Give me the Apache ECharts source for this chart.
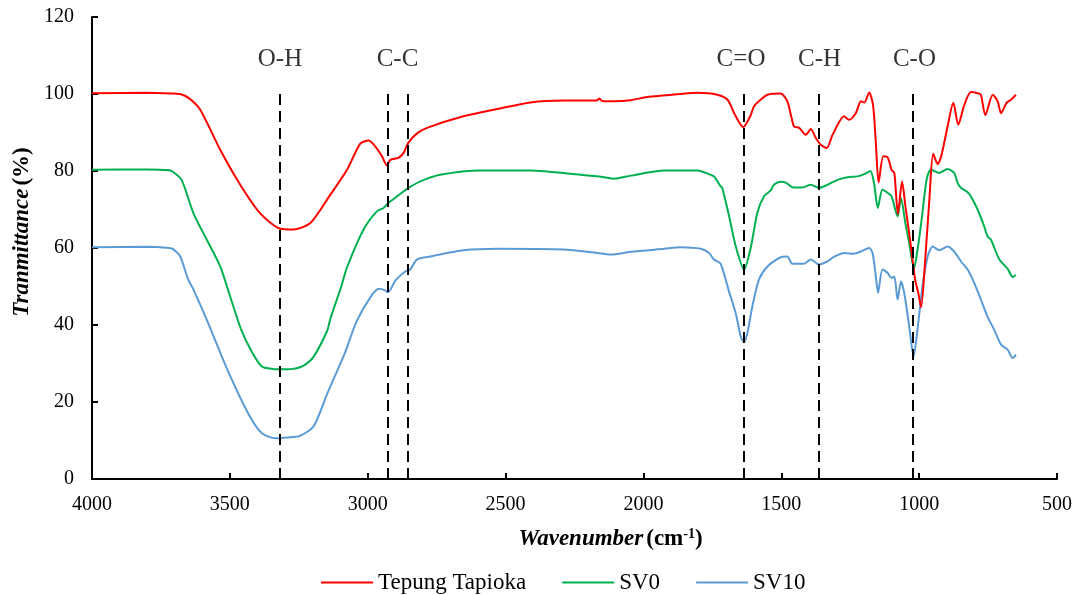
<!DOCTYPE html>
<html>
<head>
<meta charset="utf-8">
<script src="https://cdn.jsdelivr.net/npm/echarts@6/dist/echarts.min.js"></script>
<style>
  html, body { margin: 0; padding: 0; background: #ffffff; }
  #chart { width: 1075px; height: 595px; }
</style>
</head>
<body>
<div id="chart"></div>
<script>
// Tepung Tapioka
const tapiokaX = [4000, 3800, 3700, 3680, 3650, 3608, 3535, 3463, 3390, 3317, 3270, 3208, 3136, 3075, 3027, 2997, 2973, 2948, 2930, 2918, 2889, 2870, 2853, 2822, 2785, 2653, 2530, 2410, 2290, 2170, 2160, 2150, 2108, 2046, 1986, 1865, 1804, 1732, 1695, 1668, 1638, 1611, 1599, 1575, 1550, 1502, 1478, 1454, 1435, 1411, 1393, 1375, 1357, 1335, 1314, 1272, 1254, 1230, 1211, 1199, 1181, 1167, 1157, 1147, 1130, 1114, 1100, 1090, 1077, 1062, 1049, 1033, 1015, 1003, 993, 978, 963, 949, 933, 920, 897, 876, 858, 837, 812, 788, 776, 760, 733, 715, 703, 683, 667, 649];
const tapiokaY = [100.2, 100.3, 100.1, 100, 99, 96, 85.5, 76.5, 69, 65, 64.8, 66.5, 73.8, 80.3, 87.1, 87.9, 86.4, 83.8, 81.4, 82.9, 83.4, 84.7, 87.3, 89.7, 91.2, 94.2, 96.1, 97.8, 98.3, 98.3, 98.8, 98.2, 98.1, 98.4, 99.2, 100, 100.3, 99.8, 98.5, 94.6, 91.4, 94.5, 96.8, 98.5, 99.8, 100.1, 98.1, 91.6, 91.2, 89.4, 90.9, 88.6, 86.8, 86, 89.4, 94.2, 93.3, 95, 98.1, 97.8, 100.4, 97, 87.3, 77, 83.8, 83.5, 80.3, 79.5, 68.8, 77.3, 70.4, 62.2, 52, 48.3, 44.6, 57, 72.5, 84.5, 81.8, 83.8, 91.5, 97.7, 92, 97, 100.5, 100.2, 99.8, 94.5, 99.8, 98.1, 95, 97.7, 98.5, 99.8];

// SV0
const sv0X = [4000, 3800, 3720, 3706, 3675, 3632, 3584, 3535, 3499, 3459, 3420, 3384, 3346, 3300, 3271, 3234, 3196, 3147, 3136, 3096, 3075, 3015, 2967, 2943, 2925, 2894, 2852, 2809, 2737, 2591, 2410, 2228, 2143, 2107, 2046, 1925, 1804, 1756, 1744, 1720, 1714, 1690, 1665, 1635, 1611, 1587, 1563, 1538, 1527, 1502, 1484, 1460, 1424, 1393, 1363, 1333, 1296, 1260, 1224, 1199, 1177, 1164, 1150, 1133, 1114, 1100, 1078, 1066, 1050, 1036, 1019, 1004, 990, 973, 958, 927, 897, 873, 861, 848, 824, 812, 788, 764, 752, 740, 709, 679, 661, 649];
const sv0Y = [80.3, 80.4, 80.2, 79.8, 77.7, 69, 62.2, 55.2, 47.4, 38.8, 33, 29.2, 28.6, 28.5, 28.6, 29.4, 31.8, 38.5, 41.5, 50, 55, 64.8, 69.5, 70.4, 71.7, 73.4, 75.6, 77.3, 79, 80.1, 80.1, 79, 78.4, 78, 78.8, 80.1, 80.1, 79, 78.6, 76, 75.6, 68.5, 60.4, 54.4, 60, 69.1, 73.4, 75, 76.4, 77.2, 77, 75.8, 75.7, 76.4, 75.6, 76.4, 77.7, 78.4, 78.6, 79.2, 80, 77, 70.4, 75.2, 74.3, 73.4, 68.2, 73, 66.5, 61.3, 54.6, 60.4, 68, 77.7, 80.3, 79.5, 80.5, 79.5, 77, 75.6, 74.5, 73.4, 70, 65.6, 63, 62.2, 57, 54.6, 52.5, 53];

// SV10
const sv10X = [4000, 3800, 3720, 3706, 3680, 3652, 3632, 3584, 3509, 3434, 3384, 3334, 3290, 3246, 3196, 3146, 3083, 3040, 2984, 2959, 2937, 2926, 2900, 2864, 2846, 2822, 2773, 2652, 2530, 2289, 2167, 2119, 2046, 1925, 1865, 1792, 1762, 1744, 1720, 1690, 1665, 1647, 1635, 1623, 1605, 1581, 1550, 1502, 1478, 1460, 1418, 1393, 1363, 1333, 1309, 1272, 1236, 1211, 1181, 1169, 1157, 1149, 1133, 1114, 1100, 1090, 1078, 1066, 1054, 1036, 1020, 1006, 988, 969, 951, 927, 897, 873, 848, 824, 800, 776, 752, 728, 703, 679, 661, 649];
const sv10Y = [60.2, 60.3, 60, 59.7, 57.8, 52, 49.2, 41.4, 28.4, 17.1, 11.9, 10.6, 10.8, 11.2, 13.7, 22.3, 32.7, 41, 47.9, 49.4, 49, 48.5, 51.5, 53.9, 54.4, 57, 57.8, 59.4, 59.8, 59.6, 58.7, 58.3, 59, 59.8, 60.2, 59.8, 58.7, 57, 55.9, 48.8, 43, 37, 35.5, 37.9, 44.8, 51.8, 55.2, 57.6, 57.8, 55.9, 55.9, 57, 55.7, 56.5, 57.7, 58.7, 58.5, 59.1, 60, 58.7, 52.6, 48.3, 54.4, 53.5, 52.2, 52.6, 46.6, 51.3, 48.3, 39.6, 31.8, 38.8, 50, 57.8, 60.4, 59.4, 60.4, 59.1, 56.5, 54.4, 50.9, 46.6, 42.2, 38.8, 34.9, 33.6, 31.4, 32.3];

// band markers (dashed lines) and their labels
const bandLines = [3318, 2929, 2855, 1636, 1363, 1023];
const bandNames = ["O-H", "C-C", "C=O", "C-H", "C-O"];
const bandNameX = [3318, 2892, 1646, 1361, 1017];

const xTicks = [4000, 3500, 3000, 2500, 2000, 1500, 1000, 500];
const yTicks = [0, 20, 40, 60, 80, 100, 120];

const font = "'Liberation Serif', 'Times New Roman', serif";
const lineTop = 100.4;
const labelY = 108.9;

const pairs = (xs, ys) => xs.map((x, i) => [x, ys[i]]);

const myChart = echarts.init(document.getElementById("chart"));
const option = {
  animation: false,
  backgroundColor: "#ffffff",
  textStyle: { fontFamily: font },
  grid: { left: 92, right: 18, top: 17, bottom: 116 },
  legend: {
    data: [
      { name: "Tepung Tapioka", icon: "rect" },
      { name: "SV0", icon: "rect" },
      { name: "SV10", icon: "rect" }
    ],
    top: 566,
    left: 316,
    itemWidth: 52,
    itemHeight: 2,
    itemGap: 36,
    textStyle: { fontFamily: font, fontSize: 23, color: "#000000" }
  },
  xAxis: {
    type: "value",
    inverse: true,
    min: xTicks[xTicks.length - 1],
    max: xTicks[0],
    interval: 500,
    splitLine: { show: false },
    axisLine: { onZero: true, lineStyle: { color: "#000000", width: 2 } },
    axisTick: { inside: true, length: 6, lineStyle: { color: "#000000", width: 2 } },
    axisLabel: { fontSize: 20, color: "#000000", margin: 16, fontFamily: font, formatter: v => String(v) },
    name: "{it|Wavenumber} {b|(cm}{sup|-1}{b|)}",
    nameLocation: "middle",
    nameGap: 48,
    nameTextStyle: {
      padding: [0, 0, 0, 72],
      rich: {
        it: { fontSize: 23, fontWeight: "bold", fontStyle: "italic", fontFamily: font, color: "#000" },
        b: { fontSize: 23, fontWeight: "bold", fontFamily: font, color: "#000" },
        sup: { fontSize: 14, fontWeight: "bold", fontFamily: font, color: "#000", verticalAlign: "top", padding: [0, 0, 10, 0] }
      }
    }
  },
  yAxis: {
    type: "value",
    min: yTicks[0],
    max: yTicks[yTicks.length - 1],
    interval: 20,
    splitLine: { show: false },
    axisLine: { show: true, lineStyle: { color: "#000000", width: 2 } },
    axisTick: { show: true, inside: true, length: 6, lineStyle: { color: "#000000", width: 2 } },
    axisLabel: { fontSize: 20, color: "#000000", margin: 18, fontFamily: font },
    name: "{it|Tranmittance} {b|(%)}",
    nameLocation: "middle",
    nameGap: 58,
    nameTextStyle: {
      padding: [0, 0, 0, 32],
      rich: {
        it: { fontSize: 23, fontWeight: "bold", fontStyle: "italic", fontFamily: font, color: "#000" },
        b: { fontSize: 23, fontWeight: "bold", fontFamily: font, color: "#000" }
      }
    }
  },
  series: [
    {
      name: "Tepung Tapioka",
      type: "line",
      symbol: "none",
      smooth: 0.25,
      lineStyle: { color: "#ff0000", width: 2 },
      itemStyle: { color: "#ff0000" },
      data: pairs(tapiokaX, tapiokaY),
      z: 4
    },
    {
      name: "SV0",
      type: "line",
      symbol: "none",
      smooth: 0.25,
      lineStyle: { color: "#00b050", width: 2 },
      itemStyle: { color: "#00b050" },
      data: pairs(sv0X, sv0Y),
      z: 3
    },
    {
      name: "SV10",
      type: "line",
      symbol: "none",
      smooth: 0.25,
      lineStyle: { color: "#5b9bd5", width: 2 },
      itemStyle: { color: "#5b9bd5" },
      data: pairs(sv10X, sv10Y),
      z: 2
    },
    {
      name: "bands",
      type: "scatter",
      symbolSize: 0,
      silent: true,
      z: 5,
      label: {
        show: true,
        position: "inside",
        formatter: "{b}",
        fontSize: 25,
        fontFamily: font,
        color: "#000000"
      },
      data: bandNames.map((n, i) => ({ name: n, value: [bandNameX[i], labelY] })),
      markLine: {
        silent: true,
        symbol: "none",
        label: { show: false },
        lineStyle: { color: "#000000", width: 2, type: [11, 6] },
        data: bandLines.map(w => [{ coord: [w, 0] }, { coord: [w, lineTop] }])
      }
    }
  ]
};
myChart.setOption(option);
</script>
</body>
</html>
